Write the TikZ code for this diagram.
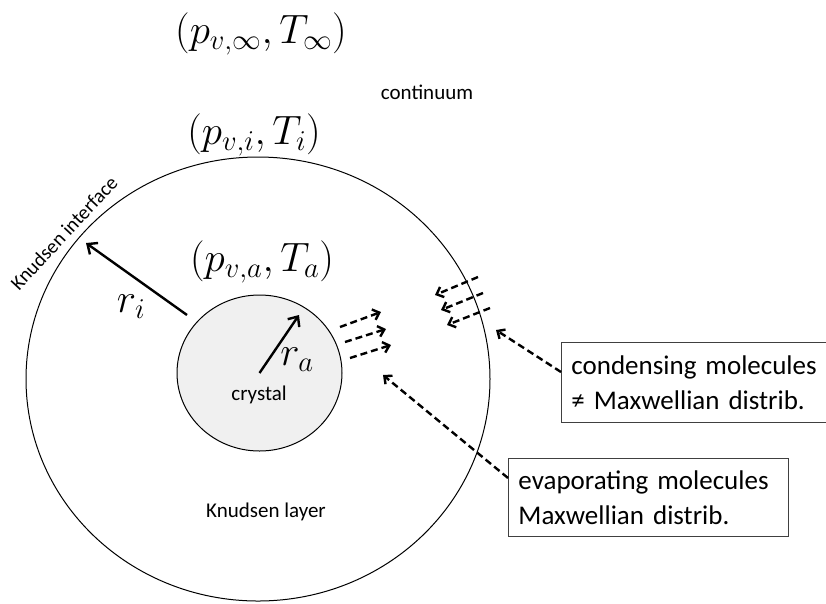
\RequirePackage{fix-cm}
\documentclass[tikz,border=0pt]{standalone}
\usepackage{fontspec}
\setmainfont{Carlito}
\usetikzlibrary{arrows.meta,shapes.geometric}
\begin{document}
\begin{tikzpicture}[x=1pt,y=-1pt,
  mathlbl/.style={inner sep=0pt,font=\fontsize{41}{44}\selectfont},
  smalltxt/.style={inner sep=0pt,font=\fontsize{21}{24}\selectfont},
  solidarrow/.style={line width=2.4pt,-{Straight Barb[length=8pt,width=14pt]}},
  dasharrow/.style={line width=2.4pt,dash pattern=on 7pt off 4pt,-{Straight Barb[length=6pt,width=11pt]}},
  infobox/.style={draw=black!75,line width=0.9pt,anchor=north west,align=left,
     inner xsep=10pt,inner ysep=0pt,font=\fontsize{27}{35}\selectfont}]
\useasboundingbox (0,0) rectangle (826,603);
\clip (0,0) rectangle (826,603);
\fill[white] (0,0) rectangle (826,603);
% circles
\node[ellipse,draw,line width=1pt,minimum width=464pt,minimum height=444pt,inner sep=0pt] (outer) at (258,379) {};
\node[ellipse,draw,line width=1pt,fill=black!6,minimum width=165pt,minimum height=156pt,inner sep=0pt] (crystal) at (259.5,373) {};
% labels
\node[mathlbl] (pinf) at (261,34) {$(p_{v,\infty},T_\infty)$};
\node[mathlbl] (pi) at (254,135) {$(p_{v,i},T_i)$};
\node[mathlbl] (pa) at (262,262) {$(p_{v,a},T_a)$};
\node[smalltxt] (cont) at (427,92) {continuum};
\node[smalltxt,rotate=47,font=\fontsize{20}{24}\selectfont] (kif) at (64,233) {Knudsen interface};
\node[smalltxt] (klayer) at (266,512) {Knudsen layer};
\node[smalltxt] (cryst) at (259,395) {crystal};
\node[mathlbl] (ri) at (131,307) {$r_i$};
\node[mathlbl] (ra) at (297,360) {$r_a$};
% radii
\coordinate (riA) at (187,315);
\coordinate (riB) at (86,243);
\draw[solidarrow] (riA) -- (riB);
\coordinate (raB) at (299,315);
\draw[solidarrow] (crystal.center) -- (raB);
% evaporating molecules
\coordinate (e1a) at (340,327); \coordinate (e1b) at (381,312);
\coordinate (e2a) at (345,342); \coordinate (e2b) at (386,329);
\coordinate (e3a) at (350,358); \coordinate (e3b) at (391,345);
\draw[dasharrow] (e1a) -- (e1b);
\draw[dasharrow] (e2a) -- (e2b);
\draw[dasharrow] (e3a) -- (e3b);
% condensing molecules
\coordinate (c1a) at (478,277); \coordinate (c1b) at (435,295);
\coordinate (c2a) at (483,293); \coordinate (c2b) at (441,310);
\coordinate (c3a) at (490,308); \coordinate (c3b) at (447,325);
\draw[dasharrow] (c1a) -- (c1b);
\draw[dasharrow] (c2a) -- (c2b);
\draw[dasharrow] (c3a) -- (c3b);
% boxes
\node[infobox,text width=275pt,minimum height=80pt] (cbox) at (561,342)
  {condensing molecules\\≠ Maxwellian distrib.};
\node[infobox,text width=260pt,minimum height=78pt] (ebox) at (508,458)
  {evaporating molecules\\Maxwellian distrib.};
% leaders
\coordinate (ctip) at (496,330);
\coordinate (etip) at (383,375);
\draw[dasharrow] (cbox.west |- 0,372) -- (ctip);
\draw[dasharrow] (ebox.west |- 0,478) -- (etip);
\end{tikzpicture}
\end{document}
